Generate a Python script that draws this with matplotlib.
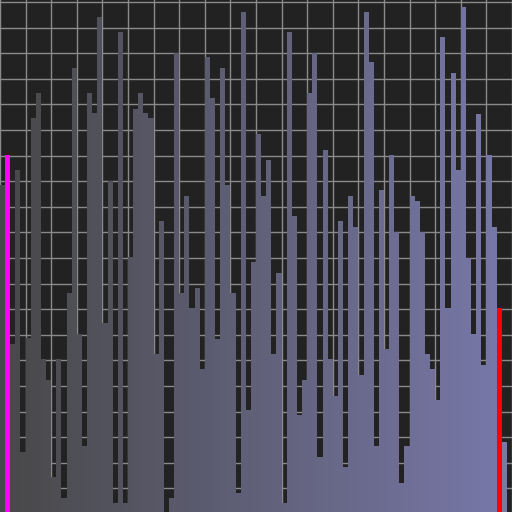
import numpy as np
import matplotlib
matplotlib.use('Agg')
import matplotlib.pyplot as plt

# bar heights (0-100 scale)
values = [64.3, 70.1, 33.3, 67.1, 12.2, 34.3, 77.3, 82.2, 30.2, 26.2,
          7.2, 30.2, 3.1, 43.2, 87.1, 35.1, 13.2, 82.2, 78.3, 97.1,
          37.3, 65.1, 2.2, 94.1, 2.2, 50.3, 79.2, 82.2, 78.3, 77.3,
          31.3, 57.2, 0.3, 3.1, 90.1, 43.2, 62.1, 40.2, 44.1, 28.3,
          89.2, 81.2, 34.2, 87.1, 64.3, 43.2, 4.2, 98.1, 20.3, 49.2,
          74.2, 62.2, 69.1, 31.3, 47.1, 2.2, 94.1, 58.2, 19.3, 26.2,
          82.2, 90.1, 11.2, 71.1, 30.2, 23.1, 57.2, 9.2, 62.1, 56.1,
          27.2, 98.1, 88.2, 13.2, 63.2, 32.2, 70.1, 55.0, 6.1, 13.2,
          62.1, 61.1, 55.0, 31.3, 28.3, 22.3, 93.1, 40.2, 86.2, 67.1,
          99.1, 50.1, 35.1, 78.1, 29.2, 70.1, 56.1, 40.2, 14.1, 0.3]
highlight = {1: '#ff00ff', 97: '#ff0000'}

n = len(values)
c0 = np.array([72, 72, 72]) / 255
c1 = np.array([120, 120, 170]) / 255
colors = [tuple(c0 + (c1 - c0) * i / (n - 1)) for i in range(n)]
for i, c in highlight.items():
    colors[i] = c

fig = plt.figure(figsize=(5.12, 5.12), dpi=100)
fig.patch.set_facecolor('#222222')
ax = fig.add_axes([0, 0, 1, 1])
ax.set_facecolor('#222222')
ax.bar(np.arange(n), values, width=1.0, align='edge', color=colors, linewidth=0)
ax.set_xlim(0, n)
ax.set_ylim(0.4, 100.4)
ax.set_xticks(np.arange(0, n + 1, 5))
ax.set_yticks(np.arange(5, 101, 5))
ax.grid(True, color='#8a8a8a', linewidth=1.0)
ax.set_axisbelow(True)
ax.tick_params(length=0, labelbottom=False, labelleft=False)
for s in ax.spines.values():
    s.set_visible(False)
fig.savefig('out.png', dpi=100, facecolor=fig.get_facecolor())
